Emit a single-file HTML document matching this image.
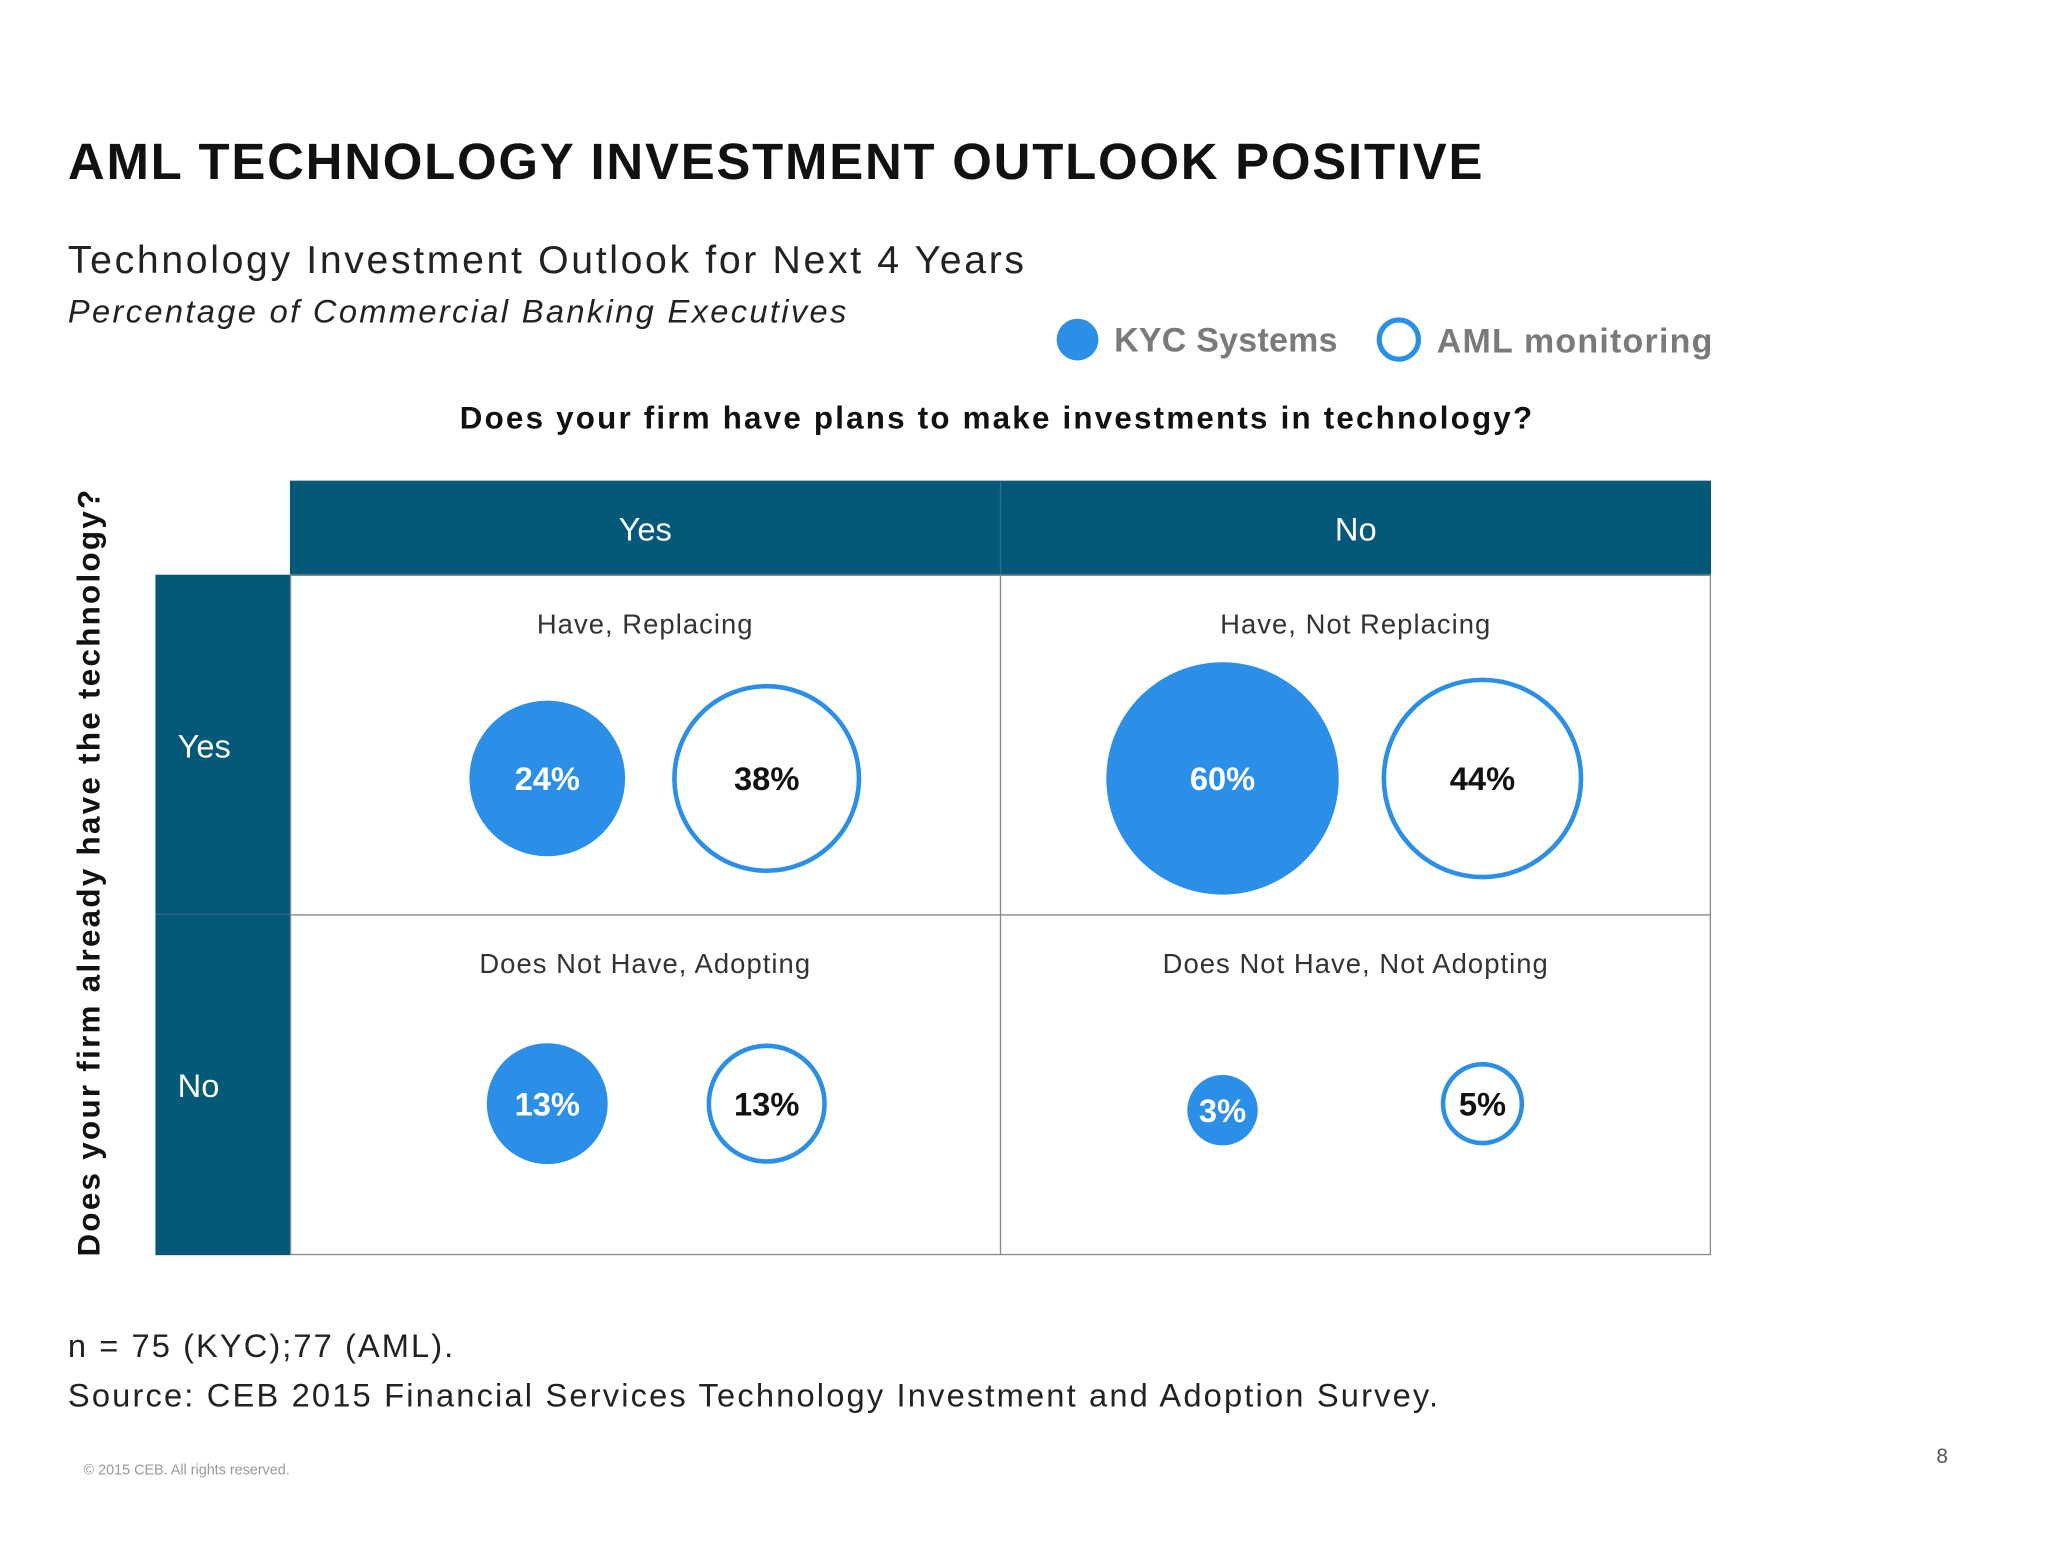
<!DOCTYPE html>
<html><head><meta charset="utf-8"><style>
html,body{margin:0;padding:0;background:#fff;width:2048px;height:1536px;overflow:hidden}
#stage{position:absolute;left:0;top:0;width:1568px;height:1176px;transform:scale(1.30612);transform-origin:0 0;font-family:"Liberation Sans",sans-serif}
svg text{font-family:"Liberation Sans",sans-serif}
</style></head><body>
<div id="stage">
<svg id="chart" width="1568" height="1176" viewBox="0 0 1568 1176">
<text x="52" y="137" font-size="39" font-weight="bold" fill="#111" textLength="1083" lengthAdjust="spacing">AML TECHNOLOGY INVESTMENT OUTLOOK POSITIVE</text>
<text x="52" y="209" font-size="30" fill="#222" textLength="732" lengthAdjust="spacing">Technology Investment Outlook for Next 4 Years</text>
<text x="52" y="247" font-size="25" font-style="italic" fill="#222" textLength="596" lengthAdjust="spacing">Percentage of Commercial Banking Executives</text>
<g>
<circle cx="825" cy="260" r="16" fill="#2b8fe8"/>
<text x="853" y="269" font-size="26" font-weight="bold" fill="#7a7a7a" textLength="171" lengthAdjust="spacing">KYC Systems</text>
<circle cx="1071" cy="260" r="15" fill="none" stroke="#2b8fe8" stroke-width="4"/>
<text x="1100" y="270" font-size="26" font-weight="bold" fill="#7a7a7a" textLength="211" lengthAdjust="spacing">AML monitoring</text>
</g>
<text x="352" y="328" font-size="24" font-weight="bold" fill="#111" textLength="821" lengthAdjust="spacing">Does your firm have plans to make investments in technology?</text>
<text transform="translate(76,962) rotate(-90)" font-size="24" font-weight="bold" fill="#111" textLength="587" lengthAdjust="spacing">Does your firm already have the technology?</text>
<rect x="222" y="368" width="1088" height="72" fill="#045878"/>
<line x1="766" y1="368" x2="766" y2="440" stroke="#2a6e8a" stroke-width="1"/>
<rect x="119" y="440" width="103" height="521" fill="#045878"/>
<line x1="119" y1="700" x2="222" y2="700" stroke="#2a6e8a" stroke-width="1"/>
<rect x="222.5" y="440.5" width="1087" height="520" fill="#fff" stroke="#888" stroke-width="1"/>
<line x1="766" y1="440" x2="766" y2="961" stroke="#888" stroke-width="1"/>
<line x1="222" y1="700.5" x2="1310" y2="700.5" stroke="#888" stroke-width="1"/>
<text x="494" y="414" font-size="25" fill="#fff" text-anchor="middle">Yes</text>
<text x="1038" y="414" font-size="25" fill="#fff" text-anchor="middle">No</text>
<text x="136" y="580" font-size="25" fill="#fff">Yes</text>
<text x="136" y="840" font-size="25" fill="#fff">No</text>
<g id="cells"></g>
<text x="52" y="1039" font-size="25" fill="#222" textLength="295" lengthAdjust="spacing">n = 75 (KYC);77 (AML).</text>
<text x="52" y="1077" font-size="25" fill="#222" textLength="1049" lengthAdjust="spacing">Source: CEB 2015 Financial Services Technology Investment and Adoption Survey.</text>
<text x="64" y="1129" font-size="11" fill="#999">© 2015 CEB. All rights reserved.</text>
<text x="1487" y="1120" font-size="16" fill="#555" text-anchor="middle">8</text>
</svg>
</div>
<script>
const cellLabels = ["Have, Replacing", "Have, Not Replacing", "Does Not Have, Adopting", "Does Not Have, Not Adopting"];
const kycValues = [24, 60, 13, 3];
const amlValues = [38, 44, 13, 5];
const cellCol = [0, 1, 0, 1];
const cellRow = [0, 0, 1, 1];

const NS = "http://www.w3.org/2000/svg";
const g = document.getElementById("cells");
function colX(c){ return 222 + c * 544; }
function rowY(r){ return 440 + r * 260; }
function rScale(v){ return 9.1 + 10.31 * Math.sqrt(v); }
function mk(tag, attrs){ const e = document.createElementNS(NS, tag); for (const k in attrs) e.setAttribute(k, attrs[k]); return e; }

cellLabels.forEach((lab, i) => {
  const x0 = colX(cellCol[i]), y0 = rowY(cellRow[i]);
  const cx = x0 + 272, cy = y0 + (cellRow[i] === 0 ? 156 : 145);
  const t = mk("text", {x: cx, y: y0 + 45, "font-size": 21, fill: "#333", "text-anchor": "middle", "letter-spacing": "0.8"});
  t.textContent = lab;
  
  
  g.appendChild(t);
  const kx = cellCol[i] === 0 ? x0 + 197 : x0 + 170;
  const ax = cellCol[i] === 0 ? x0 + 365 : x0 + 369;
  const kr = rScale(kycValues[i]);
  const ky = cy + (kycValues[i] < 5 ? 5 : 0);
  const kc = mk("circle", {cx: kx, cy: ky, r: kr, fill: "#2b8fe8"});
  
  
  g.appendChild(kc);
  const kt = mk("text", {x: kx, y: ky + 9, "font-size": 25, "font-weight": "bold", fill: "#fff", "text-anchor": "middle"});
  kt.textContent = kycValues[i] + "%";
  
  
  g.appendChild(kt);
  const ar = rScale(amlValues[i]);
  const ac = mk("circle", {cx: ax, cy: cy, r: ar - 2, fill: "#fff", stroke: "#2b8fe8", "stroke-width": 3.5});
  
  
  g.appendChild(ac);
  const at = mk("text", {x: ax, y: cy + 9, "font-size": 25, "font-weight": "bold", fill: "#111", "text-anchor": "middle"});
  at.textContent = amlValues[i] + "%";
  
  
  g.appendChild(at);
});
</script>
</body></html>
